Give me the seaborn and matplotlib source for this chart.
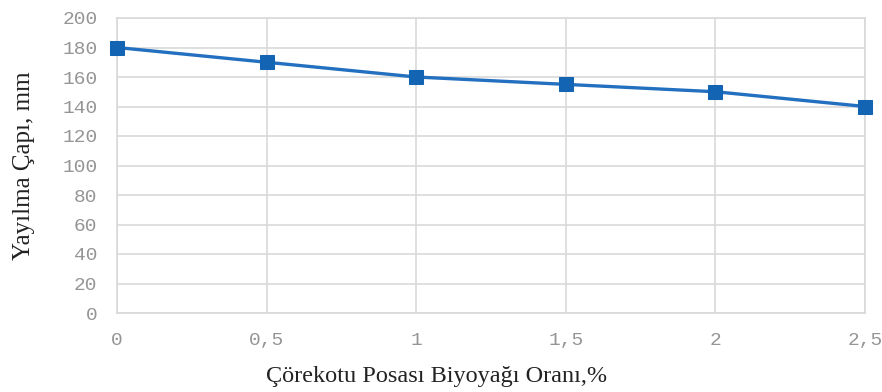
import matplotlib
matplotlib.use("Agg")
import matplotlib.pyplot as plt
import seaborn as sns
import pandas as pd

# Bio-oil ratio (%) and spread diameter (mm)
oran = [0, 0.5, 1, 1.5, 2, 2.5]
cap = [180, 170, 160, 155, 150, 140]
x_tick_labels = ["0", "0,5", "1", "1,5", "2", "2,5"]
y_ticks = [0, 20, 40, 60, 80, 100, 120, 140, 160, 180, 200]

df = pd.DataFrame({"oran": oran, "cap": cap})

sns.set_theme(style="white")
fig = plt.figure(figsize=(8.82, 3.92), dpi=100)
ax = fig.add_axes([117 / 882, 1 - 313 / 392, (865 - 117) / 882, (313 - 18) / 392])

sns.lineplot(data=df, x="oran", y="cap", ax=ax, color="#2470c0", linewidth=2.4,
             marker="s", markersize=10, markerfacecolor="#1464b4",
             markeredgecolor="#1464b4", clip_on=False, zorder=3)

ax.set_xlim(0, 2.5)
ax.set_ylim(0, 200)
ax.set_xticks(oran)
ax.set_xticklabels(x_tick_labels)
ax.set_yticks(y_ticks)

ax.grid(True, color="#d9d9d9", linewidth=1.2)
for s in ax.spines.values():
    s.set_color("#d9d9d9")
    s.set_linewidth(1.2)

ax.tick_params(axis="both", length=0, labelsize=14, labelcolor="#959595", pad=14)
for lab in ax.get_xticklabels() + ax.get_yticklabels():
    lab.set_family("Liberation Mono")

ax.set_xlabel("Çörekotu Posası Biyoyağı Oranı,%", family="Liberation Serif",
              fontsize=17.5, color="#222222")
ax.set_ylabel("Yayılma Çapı, mm", family="Liberation Serif",
              fontsize=18, color="#222222")
ax.xaxis.set_label_coords((437 - 117) / 748, (313 - 366) / 295)
ax.yaxis.set_label_coords((35 - 117) / 748, 0.5)

fig.savefig("out.png", dpi=100)
